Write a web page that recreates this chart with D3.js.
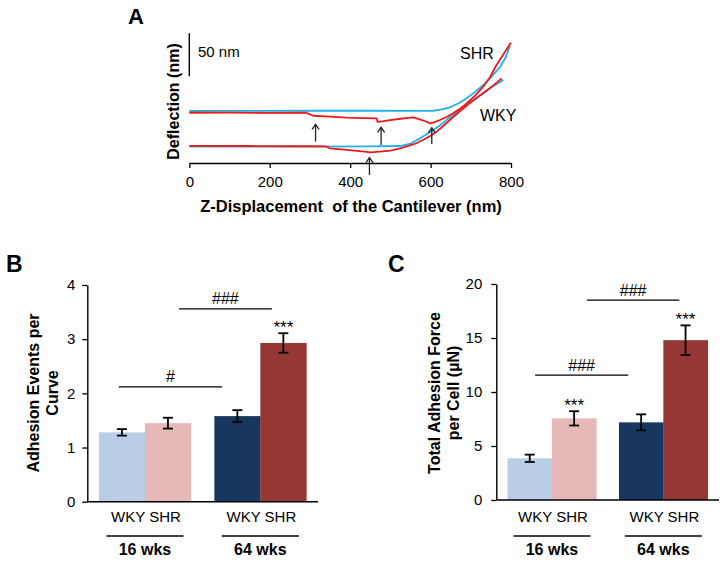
<!DOCTYPE html>
<html><head><meta charset="utf-8">
<script src="https://cdn.jsdelivr.net/npm/d3@7"></script>
<style>body{margin:0;background:#fff}svg{display:block;font-family:"Liberation Sans",Arial,sans-serif}</style>
</head><body>
<script>
// ---------- Panel A data (x: Z-displacement nm, y: deflection nm) ----------
const xTicksA = [0, 200, 400, 600, 800];
const shrApproach = [[0,41.5],[150,41.6],[300,41.8],[450,41.8],[580,41.6],[607,41.8],[628,43.5],[648,45.8],[670,50.5],[690,56.3],[710,63.5],[731,71.7],[752,81.5],[773,93],[787,104],[797,117]];
const shrRetract = [[0,39.5],[100,39.7],[200,39.3],[290,39.5],[296,38.5],[308,36],[350,35],[391,33.7],[430,33.2],[466,33],[468,29],[480,29.5],[499,31],[525,32.5],[549,33.7],[557,34.2],[575,31.5],[590,29],[599,27.2],[610,28.5],[623,31],[640,34.5],[656,38.8],[673,44],[690,50.5],[710,59],[731,69.8],[748,81],[764,95],[782,108],[800,121]];
const wkyApproach = [[0,0],[150,0.1],[300,0.2],[450,0.3],[524,0.8],[550,3.5],[574,9.7],[590,14.5],[607,19.4],[628,26.5],[648,34.2],[670,41.5],[690,48.5],[710,55.5],[731,62],[755,70],[781,77.6]];
const wkyRetract = [[0,1],[150,0.8],[300,0.5],[340,0.3],[350,-1.9],[391,-3.8],[430,-5.5],[450,-6.5],[474,-5.8],[500,-4.5],[524,-1.9],[549,1.5],[565,4],[582,8],[599,12.4],[615,17.5],[630,23.5],[648,31],[670,40],[690,47.8],[710,55],[731,62.5],[755,71],[777,79.5]];
const arrowsA = [[314,6,26],[477,2,22.6],[603,3,22],[448,-32.9,-12.8]]; // x, tail, tip
const scaleBarA = [82, 132]; // 50 nm

// ---------- Panel B / C data ----------
const groups = ["16 wks", "64 wks"];
const strains = ["WKY", "SHR"];
const barColors = ["#b9cde5", "#e6b9b8", "#17375e", "#953735"];
const eventsMean = [1.28, 1.45, 1.58, 2.93];
const eventsErr = [0.06, 0.10, 0.11, 0.18];
const eventsTicks = [0, 1, 2, 3, 4];
const forceMean = [3.86, 7.56, 7.19, 14.8];
const forceErr = [0.34, 0.66, 0.74, 1.37];
const forceTicks = [0, 5, 10, 15, 20];
const eventsStars = ["", "", "", "***"];
const forceStars = ["", "***", "", "***"];
// significance brackets: [fromBar, fraction, toBar, fraction, y value, label]
const eventsSig = [[0,0.43,2,0.17,2.12,"#"],[1,0.74,3,0.25,3.56,"###"]];
const forceSig = [[0,0.62,2,0.21,11.57,"###"],[1,0.79,3,0.36,18.5,"###"]];

const svg = d3.select("body").append("svg").attr("width",728).attr("height",562);

// ================= Panel A =================
const xA = d3.scaleLinear().domain([0,800]).range([189.3,511]);
const yA = d3.scaleLinear().domain([0,100]).range([146.7,60.7]);
const line = d3.line().x(d=>xA(d[0])).y(d=>yA(d[1]));
const gA = svg.append("g");
const blue = "#22b0e6", red = "#f01818";
[[wkyApproach,blue],[shrApproach,blue],[wkyRetract,red],[shrRetract,red]].forEach(([d,c])=>{
  gA.append("path").datum(d).attr("d",line).attr("fill","none").attr("stroke",c).attr("stroke-width",1.8).attr("stroke-linejoin","round");
});
const axA = gA.append("g").attr("transform","translate(0,163)")
  .call(d3.axisBottom(xA).tickValues(xTicksA).tickSize(5).tickSizeOuter(0).tickPadding(8));
axA.select(".domain").attr("stroke-width",1.4);
axA.selectAll(".tick line").attr("stroke-width",1.3);
axA.selectAll("text").attr("font-size",15).attr("font-family","Liberation Sans, Arial");
gA.append("text").attr("x",351).attr("y",212).attr("text-anchor","middle").attr("font-weight","bold").attr("font-size",16.5).attr("xml:space","preserve").text("Z-Displacement  of the Cantilever (nm)");
gA.append("text").attr("transform","translate(179,101.5) rotate(-90)").attr("text-anchor","middle").attr("font-weight","bold").attr("font-size",16).text("Deflection (nm)");
// scale bar
gA.append("line").attr("x1",xA(0)).attr("x2",xA(0)).attr("y1",yA(scaleBarA[0])).attr("y2",yA(scaleBarA[1])).attr("stroke","#000").attr("stroke-width",1.4);
gA.append("text").attr("x",198).attr("y",57).attr("font-size",15).text("50 nm");
gA.append("text").attr("x",460).attr("y",58.5).attr("font-size",16).text("SHR");
gA.append("text").attr("x",480).attr("y",121).attr("font-size",16).text("WKY");
arrowsA.forEach(([x,t,h])=>{
  const px = xA(x), y0 = yA(t), y1 = yA(h);
  gA.append("line").attr("x1",px).attr("x2",px).attr("y1",y0).attr("y2",y1).attr("stroke","#222").attr("stroke-width",1.3);
  gA.append("path").attr("d",`M${px-3.5},${y1+5}L${px},${y1}L${px+3.5},${y1+5}`).attr("fill","none").attr("stroke","#222").attr("stroke-width",1.3);
});
svg.append("text").attr("x",128).attr("y",24).attr("font-weight","bold").attr("font-size",22).text("A");

// ================= Bar panels =================
function barPanel(opt){
  const g = svg.append("g");
  const y = d3.scaleLinear().domain(opt.domain).range(opt.yRange);
  const x0 = d3.scaleBand().domain(groups).range(opt.xRange).paddingInner(0.203).paddingOuter(0.101);
  const x1 = d3.scaleBand().domain(strains).range([0,x0.bandwidth()]);
  const bars = opt.mean.map((m,i)=>({m, e:opt.err[i], g:groups[Math.floor(i/2)], s:strains[i%2], c:barColors[i], star:opt.stars[i]}));
  const bx = i => x0(bars[i].g)+x1(bars[i].s);
  const bw = x1.bandwidth();
  g.selectAll("rect.bar").data(bars).join("rect").attr("class","bar")
    .attr("x",d=>x0(d.g)+x1(d.s)).attr("width",bw+0.3)
    .attr("y",d=>y(d.m)).attr("height",d=>y(0)-y(d.m)).attr("fill",d=>d.c);
  // error bars
  bars.forEach((d,i)=>{
    const cx = bx(i)+bw/2;
    g.append("line").attr("x1",cx).attr("x2",cx).attr("y1",y(d.m-d.e)).attr("y2",y(d.m+d.e)).attr("stroke","#000").attr("stroke-width",1.8);
    [d.m-d.e,d.m+d.e].forEach(v=>g.append("line").attr("x1",cx-5).attr("x2",cx+5).attr("y1",y(v)).attr("y2",y(v)).attr("stroke","#000").attr("stroke-width",1.8));
    if(d.star) g.append("text").attr("x",cx).attr("y",y(d.m+d.e)-0.5).attr("text-anchor","middle").attr("font-size",17).text(d.star);
  });
  // axes
  const ax = g.append("g").attr("transform",`translate(${opt.xRange[0]},0)`)
    .call(d3.axisLeft(y).tickValues(opt.ticks).tickFormat(d3.format("d")).tickSize(5).tickSizeOuter(0).tickPadding(opt.pad));
  ax.select(".domain").attr("stroke-width",1.4);
  ax.selectAll(".tick line").attr("stroke-width",1.3);
  ax.selectAll("text").attr("font-size",15).attr("font-family","Liberation Sans, Arial");
  g.append("line").attr("x1",opt.xRange[0]).attr("x2",opt.xRange[1]).attr("y1",y(0)).attr("y2",y(0)).attr("stroke","#000").attr("stroke-width",1.4);
  // category labels
  groups.forEach(gr=>{
    const c = x0(gr)+x0.bandwidth()/2;
    g.append("text").attr("x",c+1).attr("y",521.5).attr("text-anchor","middle").attr("font-size",15).text(strains.join(" "));
    g.append("line").attr("x1",c-38.5).attr("x2",c+38.5).attr("y1",536).attr("y2",536).attr("stroke","#000").attr("stroke-width",1.3);
    g.append("text").attr("x",c).attr("y",555).attr("text-anchor","middle").attr("font-weight","bold").attr("font-size",16).text(gr);
  });
  // significance
  opt.sig.forEach(([b0,f0,b1,f1,v,lab])=>{
    const xa = bx(b0)+f0*bw, xb = bx(b1)+f1*bw;
    g.append("line").attr("x1",xa).attr("x2",xb).attr("y1",y(v)).attr("y2",y(v)).attr("stroke","#000").attr("stroke-width",1.3);
    g.append("text").attr("x",(xa+xb)/2).attr("y",y(v)-4.5).attr("text-anchor","middle").attr("font-size",16).text(lab);
  });
  // y label
  opt.ylab.forEach((t,i)=>{
    g.append("text").attr("transform",`translate(${opt.ylabX[i]},${opt.ylabY}) rotate(-90)`).attr("text-anchor","middle")
      .attr("dy","0.35em").attr("font-weight","bold").attr("font-size",16).text(t);
  });
  svg.append("text").attr("x",opt.letter[0]).attr("y",opt.letter[1]).attr("font-weight","bold").attr("font-size",23).text(opt.letterText);
}
barPanel({domain:[0,4], yRange:[501.7,285], xRange:[87.3,318], mean:eventsMean, err:eventsErr, ticks:eventsTicks, stars:eventsStars, sig:eventsSig, pad:7,
  ylab:["Adhesion Events per","Curve"], ylabX:[33,52], ylabY:393, letter:[6,271.7], letterText:"B"});
barPanel({domain:[0,20], yRange:[500,284], xRange:[496.3,719], mean:forceMean, err:forceErr, ticks:forceTicks, stars:forceStars, sig:forceSig, pad:9,
  ylab:["Total Adhesion Force","per Cell (µN)"], ylabX:[434,453], ylabY:393, letter:[388,272], letterText:"C"});
</script>
</body></html>
